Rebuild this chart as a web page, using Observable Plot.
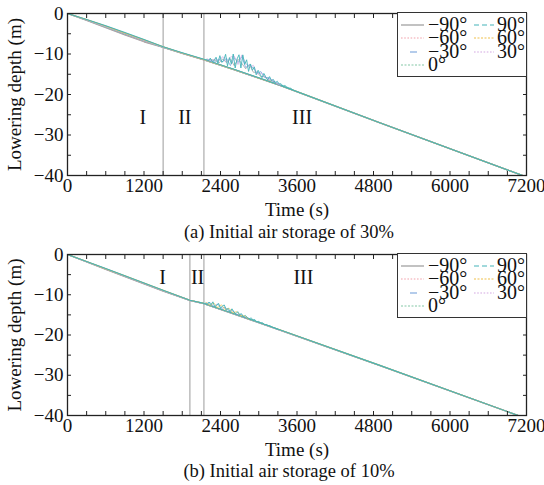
<!DOCTYPE html>
<html>
<head>
<meta charset="utf-8">
<script src="https://cdn.jsdelivr.net/npm/d3@7"></script>
<script src="https://cdn.jsdelivr.net/npm/@observablehq/plot@0.6"></script>
<style>
  body { margin: 0; background: #fff; }
  #wrap { position: relative; width: 544px; height: 485px; font-family: "Liberation Serif", "Times New Roman", serif; color: #111; }
  .panel { position: absolute; left: 0; }
  .caption { position: absolute; left: 89px; width: 400px; text-align: center; font-size: 18.5px; line-height: 22px; }
  .legend { position: absolute; box-sizing: border-box; border: 1.3px solid #333; background: #fff; }
  .legend span { position: absolute; font-size: 20px; line-height: 20px; white-space: nowrap; }
  .legend svg { position: absolute; overflow: visible; }
</style>
</head>
<body>
<div id="wrap"></div>
<script>
// Pitch angles of the lowered structure and how each one is drawn
const series = ["−90°", "−60°", "−30°", "0°", "30°", "60°", "90°"];
const colors = ["#9a9a9a", "#f2a2ac", "#6a9ad8", "#84c8a6", "#d3a8e2", "#efc04a", "#44b4ba"];
const dashes = [null, "1.6,1.6", "0,9,7,40", "2,1.5", "1.6,1.6", "2,1.5", "5,3"];

// Axis ticks
const xLabelTicks = [0, 1200, 2400, 3600, 4800, 6000, 7200];
const xMinorTicks = [300, 600, 900, 1200, 1500, 1800, 2100, 2400, 2700, 3000, 3300, 3600, 3900, 4200, 4500, 4800, 5100, 5400, 5700, 6000, 6300, 6600, 6900];
const yLabelTicks = [0, -10, -20, -30, -40];
const yMinorTicks = [-5, -10, -15, -20, -25, -30, -35];

// Stage names
const regionNames = ["I", "II", "III"];

// ---- (a) initial air storage of 30% ----
const aBounds = [1500, 2140];
const aRegionT = [1180, 1840, 3680];
const aRegionD = [-25.6, -25.6, -25.6];
const aBaseTime = [0, 300, 600, 900, 1200, 1500, 1800, 2140, 2600, 3340, 4900, 7140];
const aM90 = [0, -1.7, -3.5, -5.3, -7.0, -8.4, -9.9, -11.5, -13.85, -17.85, -27.05, -40];
const aM60 = [0, -1.65, -3.4, -5.15, -6.85, -8.35, -9.85, -11.45, -13.8, -17.8, -27.0, -40];
const aM30 = [0, -1.6, -3.3, -5.05, -6.75, -8.3, -9.8, -11.4, -13.8, -17.8, -27.0, -40];
const a0 = [0, -1.6, -3.3, -5.0, -6.7, -8.3, -9.8, -11.4, -13.8, -17.8, -27.0, -40];
const aP30 = [0, -1.55, -3.2, -4.9, -6.6, -8.25, -9.75, -11.35, -13.75, -17.8, -27.0, -40];
const aP60 = [0, -1.5, -3.1, -4.8, -6.5, -8.2, -9.75, -11.35, -13.75, -17.75, -26.95, -40];
const aP90 = [0, -1.5, -3.0, -4.7, -6.4, -8.2, -9.7, -11.3, -13.7, -17.75, -26.95, -40];
// oscillation at the start of stage III
const aNoiseT1 = [2180, 2210, 2240, 2270, 2300, 2330, 2360, 2390, 2420, 2450, 2480, 2510, 2540, 2570, 2600, 2630, 2660, 2690, 2720, 2750, 2780, 2810, 2840, 2870, 2900, 2930, 2960, 2990, 3020, 3050, 3080, 3110, 3140, 3170, 3200, 3230, 3260, 3290, 3320, 3350, 3380, 3410, 3440, 3470, 3500, 3530];
const aNoiseP90 = [-11.31, -11.67, -11.02, -11.88, -11.64, -10.79, -12.25, -10.41, -12.06, -11.52, -10.07, -12.93, -10.89, -12.44, -10.00, -13.46, -11.22, -10.19, -13.45, -10.21, -12.57, -11.43, -14.30, -12.46, -14.02, -13.18, -15.14, -14.01, -14.97, -15.83, -14.79, -15.65, -16.42, -15.58, -16.54, -16.30, -17.16, -16.73, -17.39, -17.35, -17.91, -17.77, -18.14, -18.40, -18.46, -18.82];
const aNoiseT2 = [2195, 2255, 2315, 2375, 2435, 2495, 2555, 2615, 2675, 2735, 2795, 2855, 2915, 2975, 3035, 3095, 3155, 3215, 3275, 3335];
const aNoiseM30 = [-11.49, -11.50, -12.01, -11.23, -11.94, -11.05, -12.87, -10.88, -12.11, -10.63, -13.35, -12.58, -13.50, -14.73, -14.35, -15.87, -15.80, -16.72, -16.95, -17.57];
const aNoiseP30 = [-11.19, -11.80, -11.21, -11.73, -10.64, -12.05, -10.77, -10.48, -12.61, -10.23, -12.35, -13.28, -12.80, -14.93, -14.75, -15.47, -16.30, -16.32, -17.25, -17.67];
const aNoiseM90 = [-11.59, -11.40, -11.51, -12.23, -11.24, -12.15, -11.17, -12.88, -11.31, -12.33, -13.65, -12.68, -14.50, -14.53, -15.65, -15.57, -16.50, -16.62, -17.25, -17.67];

// ---- (b) initial air storage of 10% ----
const bBounds = [1920, 2140];
const bRegionT = [1490, 2040, 3700];
const bRegionD = [-5.7, -5.7, -5.7];
const bBaseTime = [0, 300, 600, 900, 1200, 1500, 1920, 2140, 2600, 3340, 4900, 7070];
const bM90 = [0, -1.85, -3.7, -5.55, -7.35, -9.1, -11.45, -12.25, -14.75, -18.85, -27.65, -40];
const bM60 = [0, -1.8, -3.65, -5.45, -7.25, -9.05, -11.4, -12.2, -14.7, -18.8, -27.6, -40];
const bM30 = [0, -1.8, -3.6, -5.4, -7.2, -9.0, -11.4, -12.2, -14.7, -18.8, -27.6, -40];
const b0 = [0, -1.8, -3.6, -5.4, -7.2, -9.0, -11.4, -12.2, -14.7, -18.8, -27.6, -40];
const bP30 = [0, -1.8, -3.55, -5.35, -7.15, -8.95, -11.4, -12.2, -14.7, -18.8, -27.6, -40];
const bP60 = [0, -1.75, -3.55, -5.3, -7.1, -8.9, -11.35, -12.15, -14.65, -18.75, -27.55, -40];
const bP90 = [0, -1.75, -3.5, -5.3, -7.1, -8.9, -11.35, -12.15, -14.65, -18.75, -27.55, -40];
const bNoiseT1 = [2160, 2190, 2220, 2250, 2280, 2310, 2340, 2370, 2400, 2430, 2460, 2490, 2520, 2550, 2580, 2610, 2640, 2670, 2700, 2730, 2760, 2790, 2820, 2850, 2880, 2910, 2940, 2970, 3000, 3030, 3060, 3090, 3120, 3150, 3180, 3210, 3240, 3270, 3300];
const bNoiseP90 = [-12.01, -12.47, -11.83, -12.50, -11.76, -13.02, -12.69, -12.15, -13.41, -12.77, -12.54, -13.80, -13.37, -14.23, -13.49, -14.26, -14.72, -14.19, -14.95, -14.72, -15.49, -15.15, -15.62, -15.99, -15.75, -16.22, -16.18, -16.75, -16.62, -16.98, -16.95, -17.42, -17.38, -17.65, -17.72, -18.08, -18.15, -18.42, -18.58];
const bNoiseT2 = [2175, 2235, 2295, 2355, 2415, 2475, 2535, 2595, 2655, 2715, 2775, 2835];
const bNoiseP60 = [-11.89, -12.62, -12.04, -13.17, -12.49, -13.72, -13.35, -14.47, -14.20, -15.24, -15.17, -16.00];
const bNoiseM30 = [-12.19, -11.92, -12.94, -12.27, -13.39, -13.12, -14.15, -13.97, -14.90, -14.84, -15.57, -15.80];

const FONT = '"Liberation Serif", "Times New Roman", serif';
const minus = d => (d < 0 ? "\u2212" + Math.abs(d) : String(d));
const rows = (ts, ds) => ts.map((t, i) => ({t, d: ds[i]}));
const blank = () => "";
const xMid = (xLabelTicks[0] + xLabelTicks[xLabelTicks.length - 1]) / 2;
const yMid = (yLabelTicks[0] + yLabelTicks[yLabelTicks.length - 1]) / 2;

function panel({top, height, marginTop, baseTime, base, noise, bounds, regionT, regionD}) {
  const marks = [
    Plot.ruleX(bounds, {stroke: "#a4a4a4", strokeWidth: 1.1}),
    ...base.map((ds, k) => Plot.line(rows(baseTime, ds), {x: "t", y: "d", stroke: colors[k], strokeWidth: 1.1, clip: true})),
    ...noise.map(n => Plot.line(rows(n.t, n.d), {x: "t", y: "d", stroke: colors[n.k], strokeWidth: n.w, clip: true})),
    Plot.text(regionNames, {x: (d, i) => regionT[i], y: (d, i) => regionD[i], text: d => d, fontSize: 20}),
    Plot.axisX(xMinorTicks, {anchor: "bottom", tickSize: 4, dy: -4, tickFormat: blank, label: null, stroke: "#222"}),
    Plot.axisX(xMinorTicks, {anchor: "top", tickSize: 4, dy: 4, tickFormat: blank, label: null, stroke: "#222"}),
    Plot.axisY(yMinorTicks, {anchor: "left", tickSize: 4, dx: 4, tickFormat: blank, label: null, stroke: "#222"}),
    Plot.axisY(yMinorTicks, {anchor: "right", tickSize: 4, dx: -4, tickFormat: blank, label: null, stroke: "#222"}),
    Plot.axisX(xLabelTicks, {anchor: "bottom", tickSize: 0, tickPadding: 3, tickFormat: d => String(d), label: null}),
    Plot.axisY(yLabelTicks, {anchor: "left", tickSize: 0, tickPadding: 4, tickFormat: minus, label: null}),
    Plot.frame({stroke: "#222", strokeWidth: 1.3}),
    Plot.text(["Lowering depth (m)"], {x: () => xLabelTicks[0], y: () => yMid, text: d => d, rotate: -90, dx: -53, fontSize: 19}),
    Plot.text(["Time (s)"], {x: () => xMid, y: () => yLabelTicks[yLabelTicks.length - 1], text: d => d, dy: 34, fontSize: 19})
  ];
  const svg = Plot.plot({
    width: 544,
    height,
    marginTop,
    marginBottom: 45,
    marginLeft: 67,
    marginRight: 18,
    x: {domain: [0, 7200], label: null},
    y: {domain: [-40, 0], label: null},
    style: {fontFamily: FONT, fontSize: "19px", color: "#111", background: "white", overflow: "visible"},
    marks
  });
  const holder = document.createElement("div");
  holder.className = "panel";
  holder.style.top = top + "px";
  holder.appendChild(svg);
  document.getElementById("wrap").appendChild(holder);
}

function caption(text, top) {
  d3.select("#wrap").append("div").attr("class", "caption").style("top", top + "px").text(text);
}

// legend box in the top-right corner of the plot frame
const legendCols = [[0, 1, 2, 3], [6, 5, 4]];
const legendRows = [11.5, 25.2, 38.8, 52.4];
function legend(top) {
  const box = d3.select("#wrap").append("div").attr("class", "legend")
    .style("left", "397px").style("top", top + "px").style("width", "130px").style("height", "65px");
  const colX = [{line: 3, len: 23, text: 30}, {line: 76, len: 20, text: 99}];
  legendCols.forEach((col, c) => {
    col.forEach((k, r) => {
      const y = legendRows[r];
      const s = box.append("svg").attr("width", colX[c].len).attr("height", 2)
        .style("left", colX[c].line + "px").style("top", (y - 1) + "px");
      s.append("line").attr("x1", 0).attr("x2", colX[c].len).attr("y1", 1).attr("y2", 1)
        .attr("stroke", colors[k]).attr("stroke-width", 1.2)
        .attr("stroke-dasharray", dashes[k]);
      box.append("span").style("left", colX[c].text + "px").style("top", (y - 11) + "px").text(series[k]);
    });
  });
}

panel({
  top: 0, height: 220, marginTop: 13,
  baseTime: aBaseTime,
  base: [aM90, aM60, aM30, a0, aP30, aP60, aP90],
  noise: [
    {k: 0, t: aNoiseT2, d: aNoiseM90, w: 0.7},
    {k: 2, t: aNoiseT2, d: aNoiseM30, w: 0.7},
    {k: 4, t: aNoiseT2, d: aNoiseP30, w: 0.7},
    {k: 6, t: aNoiseT1, d: aNoiseP90, w: 0.9}
  ],
  bounds: aBounds, regionT: aRegionT, regionD: aRegionD
});
caption("(a) Initial air storage of 30%", 221);
legend(12);

panel({
  top: 243, height: 217, marginTop: 11,
  baseTime: bBaseTime,
  base: [bM90, bM60, bM30, b0, bP30, bP60, bP90],
  noise: [
    {k: 2, t: bNoiseT2, d: bNoiseM30, w: 0.7},
    {k: 5, t: bNoiseT2, d: bNoiseP60, w: 0.7},
    {k: 6, t: bNoiseT1, d: bNoiseP90, w: 0.9}
  ],
  bounds: bBounds, regionT: bRegionT, regionD: bRegionD
});
caption("(b) Initial air storage of 10%", 460);
legend(253);
</script>
</body>
</html>
